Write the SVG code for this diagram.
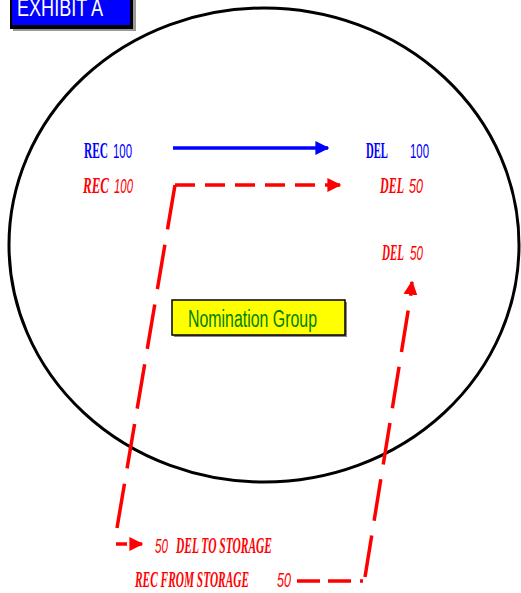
<svg xmlns="http://www.w3.org/2000/svg" width="521" height="593" viewBox="0 0 521 593">
<style>
.lbl{font-family:"Liberation Serif",serif;font-weight:bold;font-size:23px}
.it{font-style:italic}
.num{font-family:"Liberation Sans",sans-serif;font-size:21px}
.blue{fill:#0000ff}
.red{fill:#ff0000}
.rl{stroke:#ff0000;stroke-width:3.5;fill:none}
</style>
<defs>
<marker id="ab" viewBox="0 0 10 10" refX="9" refY="5" markerWidth="4" markerHeight="4" orient="auto" markerUnits="strokeWidth"><path d="M0,0 L10,5 L0,10 z" fill="#0000ff"/></marker>
<marker id="ar" viewBox="0 0 10 10" refX="9" refY="5" markerWidth="4" markerHeight="4" orient="auto" markerUnits="strokeWidth"><path d="M0,0 L10,5 L0,10 z" fill="#ff0000"/></marker>
</defs>
<rect width="521" height="593" fill="#ffffff"/>
<g id="boundary">
<ellipse cx="264" cy="245" rx="255" ry="237" fill="none" stroke="#000000" stroke-width="3"/>
</g>
<g id="exhibit">
<rect x="13" y="-5" width="123" height="36" fill="#999999"/>
<rect x="10" y="-5" width="123" height="34" fill="#000000"/>
<rect x="12" y="-5" width="118" height="30" fill="#0000ff"/>
<text x="17" y="16" font-family="Liberation Sans,sans-serif" font-size="24" fill="#ffffff" textLength="86" lengthAdjust="spacingAndGlyphs">EXHIBIT A</text>
</g>
<g id="nomination">
<rect x="174" y="302" width="173" height="35" fill="#888888"/>
<rect x="172" y="300" width="173" height="35" fill="#ffff00" stroke="#000000" stroke-width="1.5"/>
<text x="188" y="327" font-family="Liberation Sans,sans-serif" font-size="23" fill="#008000" textLength="129" lengthAdjust="spacingAndGlyphs">Nomination  Group</text>
</g>
<g id="labels">
<text x="84" y="158" class="lbl blue" textLength="24" lengthAdjust="spacingAndGlyphs">REC</text>
<text x="113" y="158" class="num blue" textLength="19" lengthAdjust="spacingAndGlyphs">100</text>
<text x="366" y="158" class="lbl blue" textLength="22" lengthAdjust="spacingAndGlyphs">DEL</text>
<text x="410" y="158" class="num blue" textLength="19" lengthAdjust="spacingAndGlyphs">100</text>
<text x="83" y="193" class="lbl it red" textLength="26" lengthAdjust="spacingAndGlyphs">REC</text>
<text x="114" y="193" class="num it red" textLength="19" lengthAdjust="spacingAndGlyphs">100</text>
<text x="380" y="193" class="lbl it red" textLength="24" lengthAdjust="spacingAndGlyphs">DEL</text>
<text x="409" y="193" class="num it red" textLength="14" lengthAdjust="spacingAndGlyphs">50</text>
<text x="382" y="260" class="lbl it red" textLength="22" lengthAdjust="spacingAndGlyphs">DEL</text>
<text x="410" y="260" class="num it red" textLength="13" lengthAdjust="spacingAndGlyphs">50</text>
<text x="155" y="553" class="num it red" textLength="13" lengthAdjust="spacingAndGlyphs">50</text>
<text x="176" y="553" class="lbl it red" font-size="20" textLength="96" lengthAdjust="spacingAndGlyphs">DEL TO STORAGE</text>
<text x="135" y="587" class="lbl it red" font-size="20" textLength="114" lengthAdjust="spacingAndGlyphs">REC FROM STORAGE</text>
<text x="277" y="587" class="num it red" textLength="14" lengthAdjust="spacingAndGlyphs">50</text>
</g>
<g id="connectors">
<line x1="173" y1="148" x2="328" y2="148" stroke="#0000ff" stroke-width="3.5" marker-end="url(#ab)"/>
<path class="rl" d="M175,185 L330,185" stroke-dasharray="20 10"/>
<path d="M335,185 L340,185" class="rl" marker-end="url(#ar)"/>
<path class="rl" d="M175,185 L117,528" stroke-dasharray="45 15.6"/>
<path class="rl" d="M116,544 L127,544"/>
<path d="M136,544 L142,544" class="rl" marker-end="url(#ar)"/>
<path class="rl" d="M297,581 L351,581" stroke-dasharray="23 8"/>
<path class="rl" d="M360,581 L363,581"/>
<path class="rl" d="M365,577 L411,293" stroke-dasharray="42 15"/>
<path d="M411,290 L412,282" class="rl" marker-end="url(#ar)"/>
</g>
</svg>
